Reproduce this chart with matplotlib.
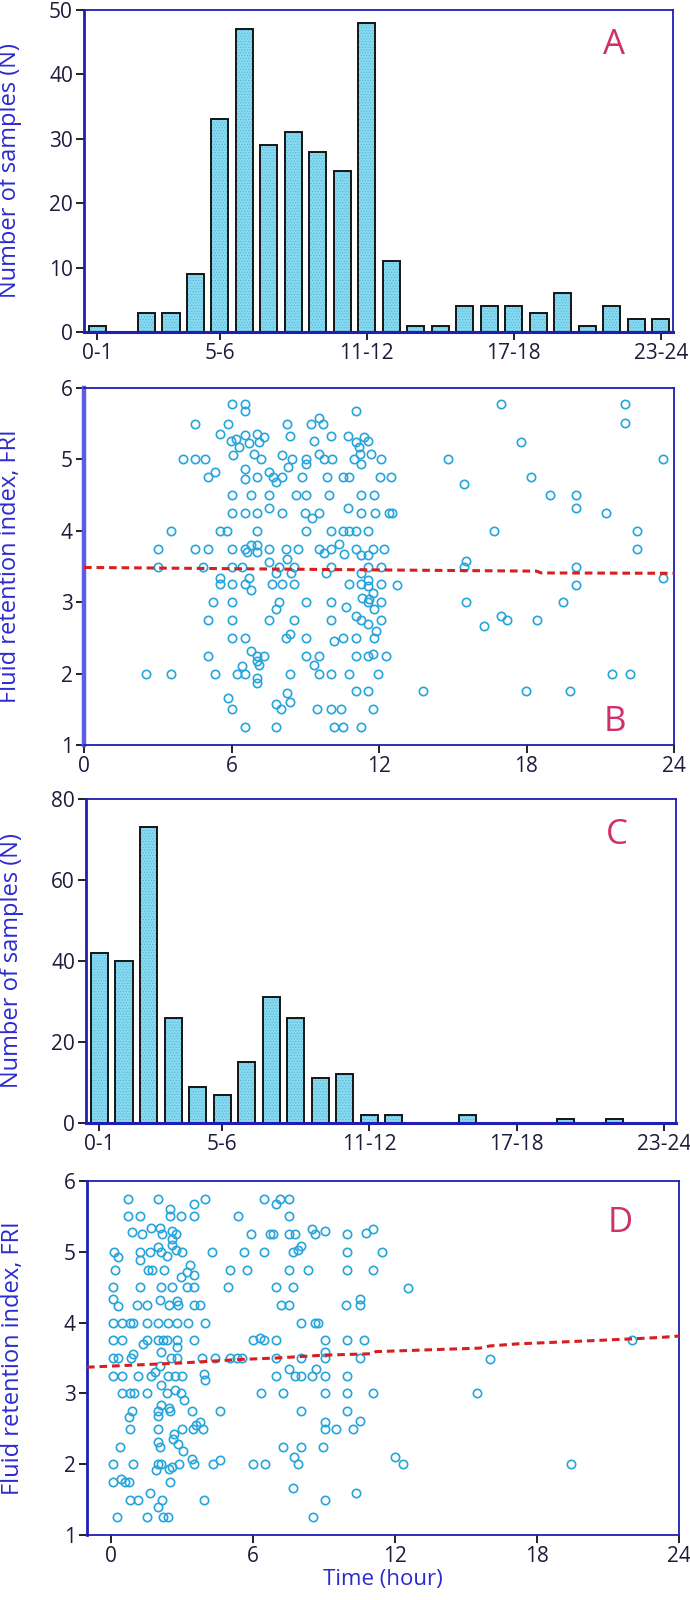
import numpy as np
import matplotlib
matplotlib.use('Agg')
import matplotlib.pyplot as plt

plt.rcParams['font.family'] = ['Open Sans', 'DejaVu Sans']
plt.rcParams['hatch.linewidth'] = 0.4

# hourly sample counts (bins 0-1 ... 23-24)
counts_a = [1, 0, 3, 3, 9, 33, 47, 29, 31, 28, 25, 48, 11, 1, 1, 4, 4, 4, 3, 6, 1, 4, 2, 2]
counts_c = [42, 40, 73, 26, 9, 7, 15, 31, 26, 11, 12, 2, 2, 0, 0, 2, 0, 0, 0, 1, 0, 1, 0, 0]
bin_ticks = [0, 5, 11, 17, 23]
bin_labels = ['0-1', '5-6', '11-12', '17-18', '23-24']

# panel B points (time in hours, FRI)
b_points = [
    (6.0, 5.77), (6.54, 5.77), (6.54, 5.68), (11.05, 5.68),
    (4.52, 5.5), (5.86, 5.5), (8.26, 5.5), (9.25, 5.5), (9.56, 5.58), (9.73, 5.5),
    (5.52, 5.35), (5.99, 5.26), (6.19, 5.28), (6.3, 5.18), (6.54, 5.34), (6.7, 5.23),
    (7.02, 5.35), (7.12, 5.25), (7.32, 5.32), (8.38, 5.33), (9.36, 5.26), (10.05, 5.33),
    (10.75, 5.33), (11.06, 5.25), (11.2, 5.18), (11.4, 5.31), (11.54, 5.26),
    (4.04, 5.0), (4.52, 5.0), (4.91, 5.0), (6.07, 5.06), (6.91, 5.07), (7.18, 5.0),
    (8.04, 5.06), (8.45, 5.0), (9.02, 5.0), (9.02, 4.93), (9.54, 5.07), (9.77, 5.0),
    (10.07, 5.0), (10.99, 5.0), (11.22, 5.07), (11.27, 4.93), (11.67, 5.07), (12.1, 5.0),
    (8.29, 4.9), (6.54, 4.87),
    (5.05, 4.75), (5.32, 4.82), (6.54, 4.72), (7.05, 4.75), (7.52, 4.82), (7.69, 4.75),
    (7.82, 4.69), (8.04, 4.75), (8.86, 4.75), (9.9, 4.75), (10.52, 4.75), (10.79, 4.75),
    (12.05, 4.75), (12.48, 4.75),
    (6.0, 4.5), (6.78, 4.5), (7.52, 4.5), (8.61, 4.5), (9.02, 4.5), (9.97, 4.5),
    (11.25, 4.5), (11.78, 4.5),
    (6.0, 4.25), (6.54, 4.25), (7.05, 4.25), (7.52, 4.32), (8.04, 4.25), (8.99, 4.25),
    (9.29, 4.18), (9.54, 4.25), (10.75, 4.32), (11.25, 4.25), (11.85, 4.25), (12.41, 4.25),
    (12.54, 4.25),
    (3.55, 4.0), (5.52, 4.0), (5.82, 4.0), (7.05, 4.0), (9.02, 4.0), (10.05, 4.0),
    (10.52, 4.0), (10.79, 4.0), (11.06, 4.0), (11.54, 4.0),
    (2.99, 3.75), (4.52, 3.75), (5.05, 3.75), (6.0, 3.75), (6.54, 3.75), (6.64, 3.7),
    (6.78, 3.8), (7.05, 3.8), (7.05, 3.7), (7.52, 3.75), (8.2, 3.75), (8.72, 3.75),
    (9.54, 3.75), (9.77, 3.69), (10.04, 3.75), (10.38, 3.82), (10.56, 3.68), (11.06, 3.75),
    (11.27, 3.66), (11.54, 3.66), (11.74, 3.75), (12.2, 3.75),
    (2.99, 3.5), (4.84, 3.5), (6.0, 3.5), (6.44, 3.5), (7.52, 3.57), (7.93, 3.5),
    (7.82, 3.41), (8.27, 3.6), (8.54, 3.5), (8.41, 3.41), (10.04, 3.5), (9.86, 3.41),
    (11.54, 3.5), (12.08, 3.5), (11.27, 3.41), (15.47, 3.5), (15.54, 3.58),
    (5.52, 3.34), (5.52, 3.25), (6.0, 3.25), (6.54, 3.25), (6.7, 3.34), (6.78, 3.17),
    (7.66, 3.25), (8.07, 3.25), (8.54, 3.25), (10.79, 3.25), (11.27, 3.25), (11.54, 3.31),
    (11.54, 3.22), (11.74, 3.13), (12.08, 3.25), (12.75, 3.24), (11.32, 3.06), (11.59, 3.05),
    (5.25, 3.0), (6.0, 3.0), (7.93, 3.0), (7.8, 2.9), (9.02, 3.0), (10.04, 3.0),
    (10.65, 2.93), (11.54, 3.0), (11.81, 2.9), (12.08, 3.0), (15.54, 3.0), (19.5, 3.0),
    (5.05, 2.75), (6.0, 2.75), (7.52, 2.75), (8.54, 2.75), (10.04, 2.75), (11.06, 2.81),
    (11.27, 2.75), (11.54, 2.7), (12.08, 2.75), (16.29, 2.67), (16.97, 2.81), (17.2, 2.75),
    (18.42, 2.75),
    (6.0, 2.5), (6.54, 2.5), (8.2, 2.5), (8.38, 2.56), (9.02, 2.5), (10.18, 2.45),
    (10.52, 2.5), (11.06, 2.5), (11.81, 2.5), (11.88, 2.6),
    (5.05, 2.25), (6.78, 2.32), (7.05, 2.25), (7.32, 2.25), (7.05, 2.18), (7.12, 2.12),
    (9.02, 2.25), (9.54, 2.25), (9.36, 2.12), (11.06, 2.25), (11.54, 2.25), (11.74, 2.28),
    (12.29, 2.25),
    (2.53, 2.0), (3.55, 2.0), (5.32, 2.0), (6.23, 2.0), (6.54, 2.0), (6.44, 2.1),
    (7.05, 1.94), (7.05, 1.87), (8.38, 2.0), (9.54, 2.0), (10.04, 2.0), (10.79, 2.0),
    (11.95, 2.0), (21.46, 2.0), (22.23, 2.0),
    (5.86, 1.66), (8.26, 1.73), (11.06, 1.75), (11.54, 1.75), (13.77, 1.75), (17.99, 1.75),
    (19.76, 1.75),
    (6.0, 1.5), (7.82, 1.57), (8.0, 1.5), (8.38, 1.6), (9.47, 1.5), (10.04, 1.5),
    (10.45, 1.5), (11.74, 1.5),
    (6.54, 1.25), (7.8, 1.25), (10.18, 1.25), (10.52, 1.25), (11.27, 1.25),
    (16.97, 5.77), (22.01, 5.77), (22.01, 5.51), (17.78, 5.25), (14.79, 5.0), (23.54, 5.0),
    (15.47, 4.66), (18.19, 4.75), (18.94, 4.5), (20.0, 4.5), (20.0, 4.32), (21.25, 4.25),
    (16.69, 4.0), (22.5, 4.0), (22.5, 3.75), (23.54, 3.34), (20.0, 3.49), (20.0, 3.24),
]

# panel D points (time in hours, FRI)
d_points = [
    (0.75, 5.75), (2.0, 5.75), (3.98, 5.75), (3.5, 5.68), (2.5, 5.6), (6.49, 5.75),
    (6.99, 5.68), (7.13, 5.75), (7.55, 5.75),
    (0.75, 5.5), (1.23, 5.5), (2.5, 5.5), (2.99, 5.5), (3.5, 5.5), (5.39, 5.5), (7.55, 5.5),
    (0.89, 5.28), (1.31, 5.25), (1.72, 5.34), (2.08, 5.33), (2.16, 5.25), (2.61, 5.3),
    (2.75, 5.25), (2.61, 5.18), (5.93, 5.25), (6.71, 5.25), (6.85, 5.25), (7.55, 5.25),
    (7.77, 5.25), (8.5, 5.32), (8.61, 5.25), (9.04, 5.3), (10.0, 5.25), (10.8, 5.26),
    (11.08, 5.32),
    (0.14, 5.0), (0.32, 4.93), (1.23, 5.0), (1.23, 4.89), (1.67, 5.0), (2.0, 5.07),
    (2.12, 5.0), (2.37, 4.94), (2.58, 5.09), (2.75, 5.02), (3.0, 5.0), (4.28, 5.0),
    (5.65, 5.0), (6.49, 5.0), (7.69, 5.0), (7.93, 5.02), (8.02, 5.08), (10.0, 5.0),
    (11.46, 5.0),
    (0.17, 4.75), (1.58, 4.75), (1.76, 4.75), (2.26, 4.75), (5.04, 4.75), (5.75, 4.75),
    (7.55, 4.75), (8.33, 4.75), (10.0, 4.75), (11.08, 4.75), (3.35, 4.81), (3.22, 4.72),
    (2.96, 4.65), (3.5, 4.67),
    (0.1, 4.5), (1.23, 4.5), (2.12, 4.5), (2.58, 4.5), (3.22, 4.5), (3.5, 4.5), (4.97, 4.5),
    (6.99, 4.5), (7.69, 4.5), (12.56, 4.49),
    (0.1, 4.34), (0.32, 4.24), (1.13, 4.25), (1.52, 4.25), (2.08, 4.32), (2.47, 4.25),
    (2.78, 4.3), (2.85, 4.25), (3.5, 4.25), (3.78, 4.25), (7.2, 4.25), (7.55, 4.25),
    (9.95, 4.25), (10.52, 4.25), (10.52, 4.34),
    (0.1, 4.0), (0.47, 4.0), (0.8, 4.0), (0.95, 4.0), (1.52, 4.0), (2.0, 4.0), (2.43, 4.0),
    (2.78, 4.0), (3.25, 4.0), (3.98, 4.0), (8.02, 4.0), (8.61, 4.0), (8.75, 4.0),
    (0.1, 3.75), (0.47, 3.75), (1.37, 3.7), (1.52, 3.75), (1.98, 3.75), (2.19, 3.75),
    (2.37, 3.75), (2.78, 3.75), (2.82, 3.66), (3.5, 3.75), (6.0, 3.75), (6.32, 3.78),
    (6.47, 3.75), (6.99, 3.75), (9.04, 3.75), (10.0, 3.75), (10.7, 3.75), (22.0, 3.75),
    (0.1, 3.5), (0.32, 3.5), (0.85, 3.5), (0.95, 3.56), (2.12, 3.59), (2.54, 3.5),
    (2.82, 3.5), (3.84, 3.5), (4.4, 3.5), (5.04, 3.5), (5.34, 3.5), (5.53, 3.5), (6.99, 3.5),
    (8.02, 3.5), (9.04, 3.58), (9.04, 3.5), (10.52, 3.5), (16.0, 3.49),
    (0.1, 3.25), (0.47, 3.25), (1.17, 3.25), (1.72, 3.25), (1.88, 3.3), (2.08, 3.38),
    (2.4, 3.25), (2.7, 3.25), (3.0, 3.25), (3.92, 3.28), (3.98, 3.19), (6.99, 3.25),
    (7.52, 3.34), (7.77, 3.25), (8.05, 3.25), (8.5, 3.25), (8.68, 3.34), (9.04, 3.25),
    (10.0, 3.25),
    (0.47, 3.0), (0.82, 3.0), (0.99, 3.0), (1.52, 3.0), (2.12, 3.12), (2.36, 3.0),
    (2.72, 3.05), (2.96, 3.0), (3.08, 2.9), (6.35, 3.0), (7.27, 3.0), (9.04, 3.0),
    (10.0, 3.0), (11.08, 3.0), (15.47, 3.0),
    (0.92, 2.75), (0.78, 2.67), (1.98, 2.75), (1.98, 2.68), (2.12, 2.83), (2.47, 2.8),
    (2.5, 2.75), (3.43, 2.75), (3.78, 2.6), (4.63, 2.75), (8.02, 2.75), (10.0, 2.75),
    (10.52, 2.61),
    (0.82, 2.5), (2.0, 2.5), (2.65, 2.35), (3.0, 2.5), (3.46, 2.5), (3.6, 2.56), (3.88, 2.5),
    (9.04, 2.6), (9.04, 2.5), (9.53, 2.5), (10.24, 2.5),
    (0.4, 2.25), (1.98, 2.32), (2.08, 2.25), (2.68, 2.42), (2.85, 2.29), (3.04, 2.19),
    (7.27, 2.25), (8.02, 2.25), (8.97, 2.25),
    (0.11, 2.0), (0.96, 2.0), (1.98, 2.0), (2.12, 2.0), (1.92, 1.92), (2.47, 1.93),
    (2.61, 1.96), (2.87, 2.0), (3.42, 2.08), (3.5, 2.0), (4.33, 2.0), (4.63, 2.06),
    (6.0, 2.0), (6.52, 2.0), (7.91, 2.0), (7.74, 2.1), (12.0, 2.1), (12.35, 2.0),
    (19.45, 2.0),
    (0.1, 1.75), (0.42, 1.79), (0.59, 1.75), (0.78, 1.75), (2.5, 1.75), (7.69, 1.67),
    (10.35, 1.6),
    (0.82, 1.5), (1.17, 1.5), (1.67, 1.59), (2.15, 1.5), (2.0, 1.4), (3.92, 1.5), (9.04, 1.5),
    (0.25, 1.25), (1.52, 1.25), (2.19, 1.25), (2.4, 1.25), (8.54, 1.25),
]

# dashed trend lines
b_trend_t = [0, 12, 18.4, 18.6, 24]
b_trend_fri = [3.487, 3.452, 3.435, 3.41, 3.405]
d_trend_t = [-1, 0.3, 3, 5.5, 7, 9, 11, 11.2, 15.6, 16.0, 17.2, 20, 22, 23.2, 24]
d_trend_fri = [3.37, 3.39, 3.43, 3.48, 3.50, 3.54, 3.56, 3.59, 3.64, 3.67, 3.70, 3.74, 3.77, 3.79, 3.81]

spine_blue = '#1f1fb4'
label_blue = '#2b2bd0'
tick_col = '#1c1c3c'
letter_red = '#d0306a'
bar_face = '#86d9ef'
dot_col = '#26a4dc'
trend_red = '#d81e1e'

W, H = 690, 1600


def add_axes(fig, left, top, right, bottom):
    return fig.add_axes([left / W, 1 - bottom / H, (right - left) / W, (bottom - top) / H])


def style(ax):
    for s in ax.spines.values():
        s.set_color(spine_blue)
        s.set_linewidth(1.3)
    ax.spines['left'].set_linewidth(2.0)
    ax.tick_params(direction='out', length=6, width=1.3, color='#111111',
                   labelsize=15, labelcolor=tick_col, pad=2, top=False, right=False)


def draw_hist(ax, counts, ymax, yticks, letter):
    x = np.arange(len(counts))
    counts = np.array(counts)
    keep = counts > 0
    ax.bar(x[keep], counts[keep], width=0.7, color=bar_face, edgecolor='#4fb2d6',
           hatch='......', linewidth=0, zorder=2)
    ax.bar(x[keep], counts[keep], width=0.7, fill=False, edgecolor='#151515',
           linewidth=1.4, zorder=3)
    ax.set_xlim(-0.55, 23.5)
    ax.set_ylim(0, ymax)
    ax.set_yticks(yticks)
    ax.set_xticks(bin_ticks)
    ax.set_xticklabels(bin_labels)
    ax.spines['bottom'].set_linewidth(2.2)
    ax.spines['bottom'].set_zorder(4)
    ax.set_ylabel('Number of samples (N)', color=label_blue, fontsize=17)
    ax.yaxis.set_label_coords(-0.105, 0.5)
    ax.text(0.90, 0.89, letter, transform=ax.transAxes, color=letter_red,
            fontsize=25, ha='center', va='center')


def draw_scatter(ax, points, trend_t, trend_fri, xlim, letter, letter_y):
    t, fri = np.array(points).T
    ax.plot(t, fri, 'o', ms=6, mfc='none', mec=dot_col, mew=1.2, zorder=3)
    ax.plot(trend_t, trend_fri, color=trend_red, lw=2.2, ls=(0, (2.5, 1.6)), zorder=4)
    ax.set_xlim(*xlim)
    ax.set_ylim(1, 6)
    ax.set_xticks([0, 6, 12, 18, 24])
    ax.set_yticks([1, 2, 3, 4, 5, 6])
    ax.set_ylabel('Fluid retention index, FRI', color=label_blue, fontsize=17)
    ax.yaxis.set_label_coords(-0.105, 0.5)
    ax.text(0.90, letter_y, letter, transform=ax.transAxes, color=letter_red,
            fontsize=25, ha='center', va='center')


fig = plt.figure(figsize=(W / 100, H / 100), dpi=100)

ax_a = add_axes(fig, 84, 10, 673, 332)
style(ax_a)
draw_hist(ax_a, counts_a, 50, [0, 10, 20, 30, 40, 50], 'A')

ax_b = add_axes(fig, 84, 388, 674, 745)
style(ax_b)
draw_scatter(ax_b, b_points, b_trend_t, b_trend_fri, (0, 24), 'B', 0.065)
ax_b.spines['left'].set_linewidth(3.2)
ax_b.spines['left'].set_color('#5c5ce6')

ax_c = add_axes(fig, 86, 799, 676, 1123)
style(ax_c)
draw_hist(ax_c, counts_c, 80, [0, 20, 40, 60, 80], 'C')

ax_d = add_axes(fig, 87, 1181, 679, 1535)
style(ax_d)
draw_scatter(ax_d, d_points, d_trend_t, d_trend_fri, (-1, 24), 'D', 0.88)
ax_d.set_xlabel('Time (hour)', color=label_blue, fontsize=16, labelpad=1)

fig.savefig('out.png', dpi=100)
